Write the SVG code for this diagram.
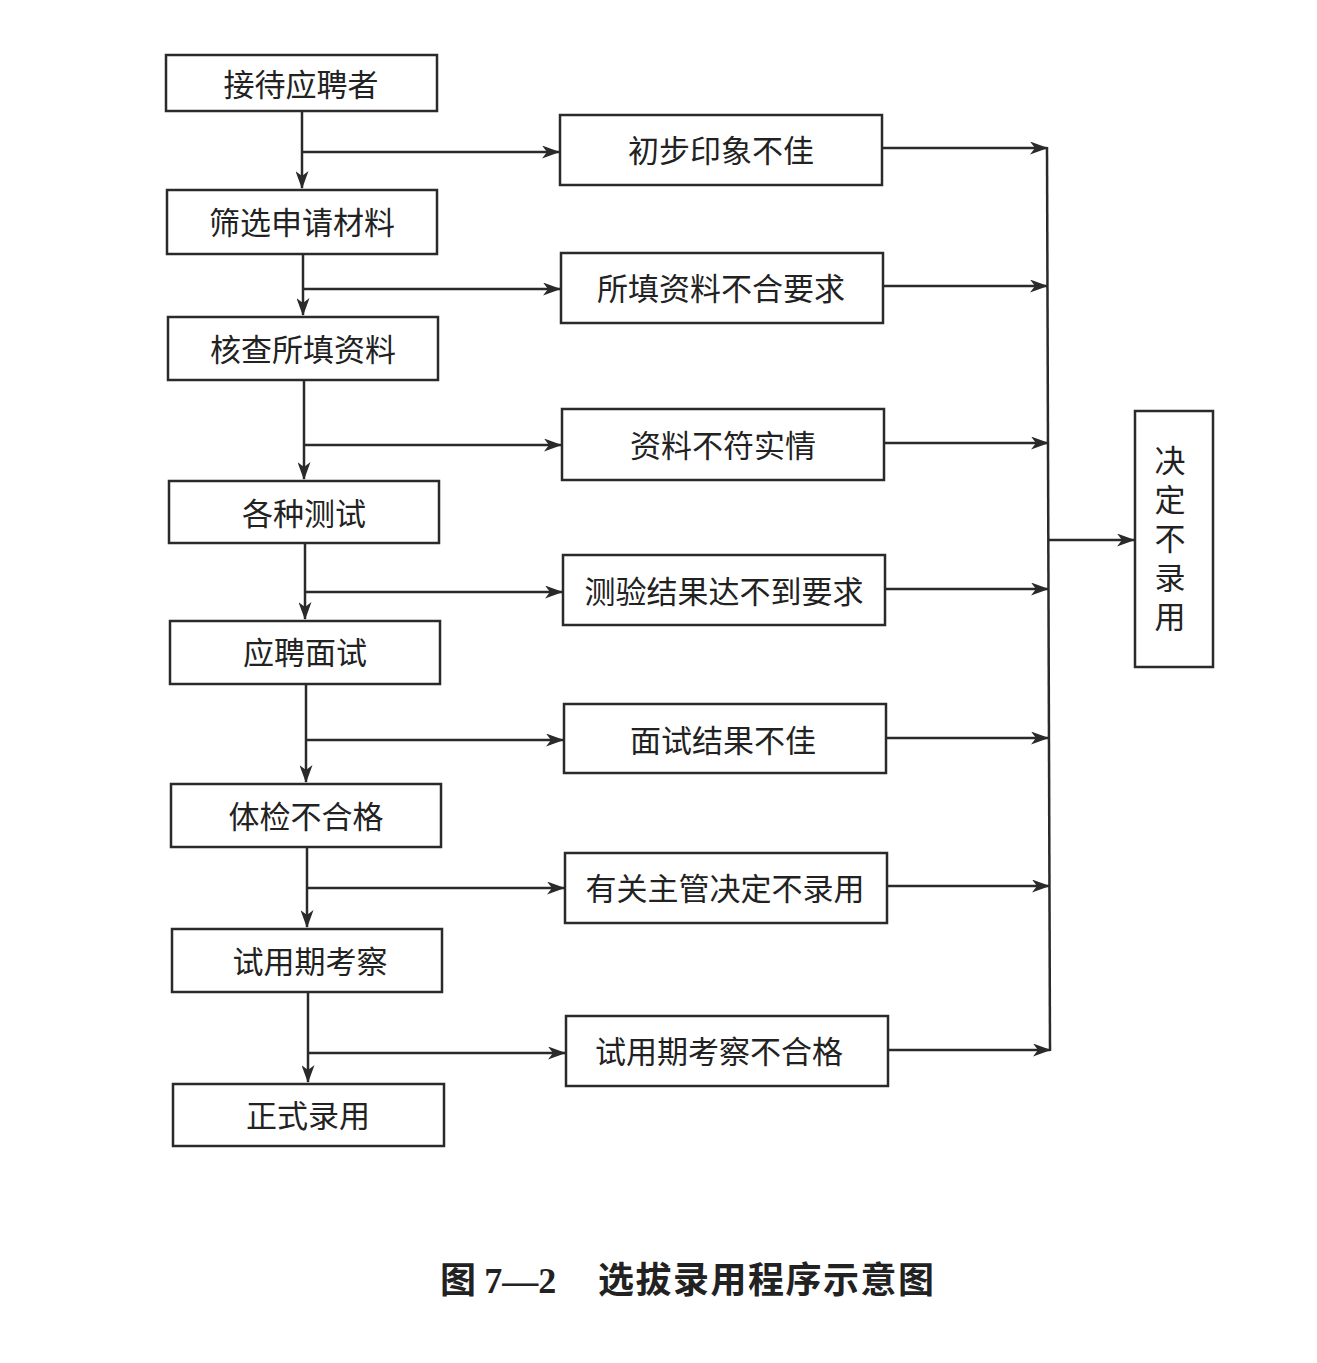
<svg xmlns="http://www.w3.org/2000/svg" width="1317" height="1363" viewBox="0 0 1317 1363">
<style>
.box{fill:#fff;stroke:#2a2a2a;stroke-width:2.5}
.t{font-family:"Noto Sans CJK SC","Noto Sans",sans-serif;font-size:31px;fill:#222;text-anchor:middle;dominant-baseline:central}
.v{font-family:"Noto Sans CJK SC","Noto Sans",sans-serif;font-size:31px;fill:#222;text-anchor:middle;writing-mode:vertical-rl;letter-spacing:8px}
.c{fill:none;stroke:#2a2a2a;stroke-width:2.5}
.cap{font-family:"Noto Sans CJK SC",sans-serif;font-size:36px;font-weight:bold;fill:#222}
</style>
<defs>
<marker id="ah" markerWidth="18" markerHeight="13" refX="17" refY="6.5" orient="auto" markerUnits="userSpaceOnUse">
<path d="M0,0 L18,6.5 L0,13 L5,6.5 z" fill="#2a2a2a"/>
</marker>
</defs>
<rect width="1317" height="1363" fill="#fff"/>
<g id="n1"><rect class="box" x="166" y="55" width="271" height="56"/><text class="t" x="301" y="82">接待应聘者</text></g>
<g id="n2"><rect class="box" x="167" y="190" width="270" height="64"/><text class="t" x="302" y="220">筛选申请材料</text></g>
<g id="n3"><rect class="box" x="168" y="317" width="270" height="63"/><text class="t" x="303" y="347">核查所填资料</text></g>
<g id="n4"><rect class="box" x="169" y="481" width="270" height="62"/><text class="t" x="304" y="511">各种测试</text></g>
<g id="n5"><rect class="box" x="170" y="621" width="270" height="63"/><text class="t" x="305" y="650">应聘面试</text></g>
<g id="n6"><rect class="box" x="171" y="784" width="270" height="63"/><text class="t" x="306" y="814">体检不合格</text></g>
<g id="n7"><rect class="box" x="172" y="929" width="270" height="63"/><text class="t" x="310" y="959">试用期考察</text></g>
<g id="n8"><rect class="box" x="173" y="1084" width="271" height="62"/><text class="t" x="308" y="1113">正式录用</text></g>
<g id="m1"><rect class="box" x="560" y="115" width="322" height="70"/><text class="t" x="721" y="148">初步印象不佳</text></g>
<g id="m2"><rect class="box" x="561" y="253" width="322" height="70"/><text class="t" x="721" y="286">所填资料不合要求</text></g>
<g id="m3"><rect class="box" x="562" y="409" width="322" height="71"/><text class="t" x="723" y="443">资料不符实情</text></g>
<g id="m4"><rect class="box" x="563" y="555" width="322" height="70"/><text class="t" x="724" y="589">测验结果达不到要求</text></g>
<g id="m5"><rect class="box" x="564" y="704" width="322" height="69"/><text class="t" x="723" y="738">面试结果不佳</text></g>
<g id="m6"><rect class="box" x="565" y="853" width="322" height="70"/><text class="t" x="725" y="886">有关主管决定不录用</text></g>
<g id="m7"><rect class="box" x="566" y="1016" width="322" height="70"/><text class="t" x="719" y="1049">试用期考察不合格</text></g>
<g id="r"><rect class="box" x="1135" y="411" width="78" height="256"/>
<text class="v" x="1170" y="542">决定不录用</text></g>
<g id="connectors">
<path class="c" d="M302,111 V188" marker-end="url(#ah)"/>
<path class="c" d="M302,152 H559" marker-end="url(#ah)"/>
<path class="c" d="M303,254 V315" marker-end="url(#ah)"/>
<path class="c" d="M303,289 H560" marker-end="url(#ah)"/>
<path class="c" d="M304,380 V479" marker-end="url(#ah)"/>
<path class="c" d="M304,445 H561" marker-end="url(#ah)"/>
<path class="c" d="M305,543 V619" marker-end="url(#ah)"/>
<path class="c" d="M305,592 H562" marker-end="url(#ah)"/>
<path class="c" d="M306,684 V782" marker-end="url(#ah)"/>
<path class="c" d="M306,740 H563" marker-end="url(#ah)"/>
<path class="c" d="M307,847 V927" marker-end="url(#ah)"/>
<path class="c" d="M307,888 H564" marker-end="url(#ah)"/>
<path class="c" d="M308,992 V1082" marker-end="url(#ah)"/>
<path class="c" d="M308,1053 H565" marker-end="url(#ah)"/>
<path class="c" d="M882,148 H1047" marker-end="url(#ah)"/>
<path class="c" d="M883,286 H1047" marker-end="url(#ah)"/>
<path class="c" d="M884,443 H1048" marker-end="url(#ah)"/>
<path class="c" d="M885,589 H1048" marker-end="url(#ah)"/>
<path class="c" d="M886,738 H1048" marker-end="url(#ah)"/>
<path class="c" d="M887,886 H1049" marker-end="url(#ah)"/>
<path class="c" d="M888,1050 H1050" marker-end="url(#ah)"/>
<path class="c" d="M1047,147 L1050,1051"/>
<path class="c" d="M1048,540 H1134" marker-end="url(#ah)"/>
</g>
<text class="cap" x="440" y="1293">图 <tspan font-family="Liberation Serif,serif">7—2</tspan><tspan x="598" letter-spacing="1.5">选拔录用程序示意图</tspan></text>
</svg>
